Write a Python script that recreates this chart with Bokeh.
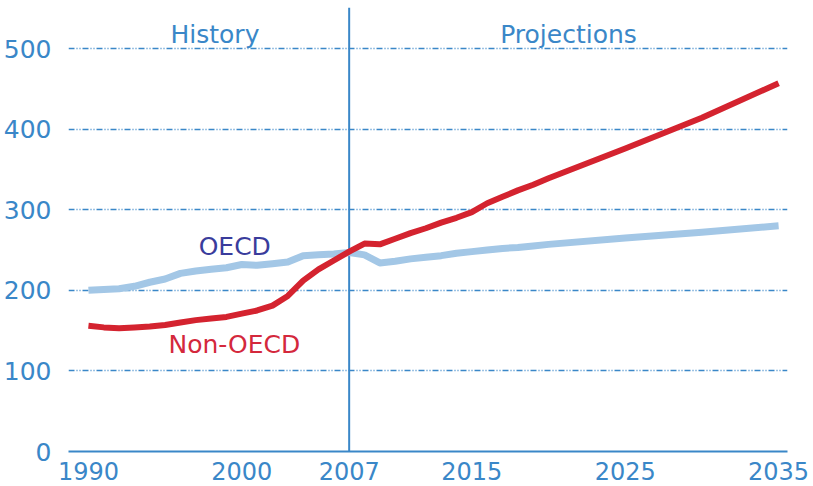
from bokeh.plotting import figure
from bokeh.models import Span, Label, FixedTicker, ColumnDataSource
from bokeh.embed import file_html
from bokeh.resources import INLINE

years = [1990, 1991, 1992, 1993, 1994, 1995, 1996, 1997, 1998, 1999, 2000,
         2001, 2002, 2003, 2004, 2005, 2006, 2007, 2008, 2009, 2010,
         2011, 2012, 2013, 2014, 2015, 2016, 2017, 2018, 2019, 2020,
         2025, 2030, 2035]
oecd = [200, 201, 202, 205, 210, 214, 221, 224, 226, 228, 232,
        231, 233, 235, 243, 244, 245, 247, 244, 234, 236,
        239, 241, 243, 246, 248, 250, 252, 253, 255, 257,
        265, 272, 280]
non_oecd = [156, 154, 153, 154, 155, 157, 160, 163, 165, 167, 171,
            175, 181, 193, 212, 226, 237, 248, 258, 257, 264,
            271, 277, 284, 290, 297, 308, 316, 324, 331, 339,
            376, 414, 457]
x_ticks = [1990, 2000, 2007, 2015, 2025, 2035]
y_ticks = [0, 100, 200, 300, 400, 500]
grid_ticks = [100, 200, 300, 400, 500]
split_year = 2007

BLUE = "#3a87c8"
FONT = "DejaVu Sans"

src = ColumnDataSource(dict(year=years, oecd=oecd, non_oecd=non_oecd))

p = figure(width=813, height=486, output_backend="svg", toolbar_location=None,
           x_range=(1988.70, 2035.58), y_range=(0, 550.9),
           min_border_left=65, min_border_right=26, min_border_top=7,
           min_border_bottom=35)
p.outline_line_color = None
p.background_fill_color = "white"
p.border_fill_color = "white"

# axes
p.xaxis.ticker = FixedTicker(ticks=x_ticks)
p.yaxis.ticker = FixedTicker(ticks=y_ticks)
for ax in (p.xaxis[0], p.yaxis[0]):
    ax.major_tick_line_color = None
    ax.minor_tick_line_color = None
    ax.major_label_text_color = BLUE
    ax.major_label_text_font = FONT
    ax.major_label_text_font_size = "24px"
p.xaxis.axis_line_color = BLUE
p.xaxis.axis_line_width = 2
p.xaxis.major_label_standoff = 4
p.yaxis.axis_line_color = None
p.yaxis.major_label_standoff = 11
p.yaxis.major_label_text_font_size = "25px"

p.xgrid.grid_line_color = None
p.ygrid.ticker = FixedTicker(ticks=grid_ticks)
p.ygrid.grid_line_color = BLUE
p.ygrid.grid_line_width = 1.5
p.ygrid.grid_line_dash = "6 2 1 2 1 2"

p.add_layout(Span(location=split_year, dimension="height", line_color=BLUE,
                  line_width=2, level="underlay"))

p.line("year", "oecd", source=src, line_color="#a3c7e6", line_width=7,
       line_join="round")
p.line("year", "non_oecd", source=src, line_color="#d4232f", line_width=6,
       line_join="round")

def lab(x, y, t, c, size):
    p.add_layout(Label(x=x, y=y, text=t, text_color=c, text_font=FONT,
                       text_font_size=size, text_align="center",
                       text_baseline="middle"))

lab(1998.25, 518, "History", BLUE, "25px")
lab(2021.3, 518, "Projections", BLUE, "25px")
lab(1999.54, 254, "OECD", "#3a3c9c", "25px")
lab(1999.51, 133, "Non-OECD", "#d4283c", "25px")

open("out.html", "w").write(file_html(p, INLINE))
